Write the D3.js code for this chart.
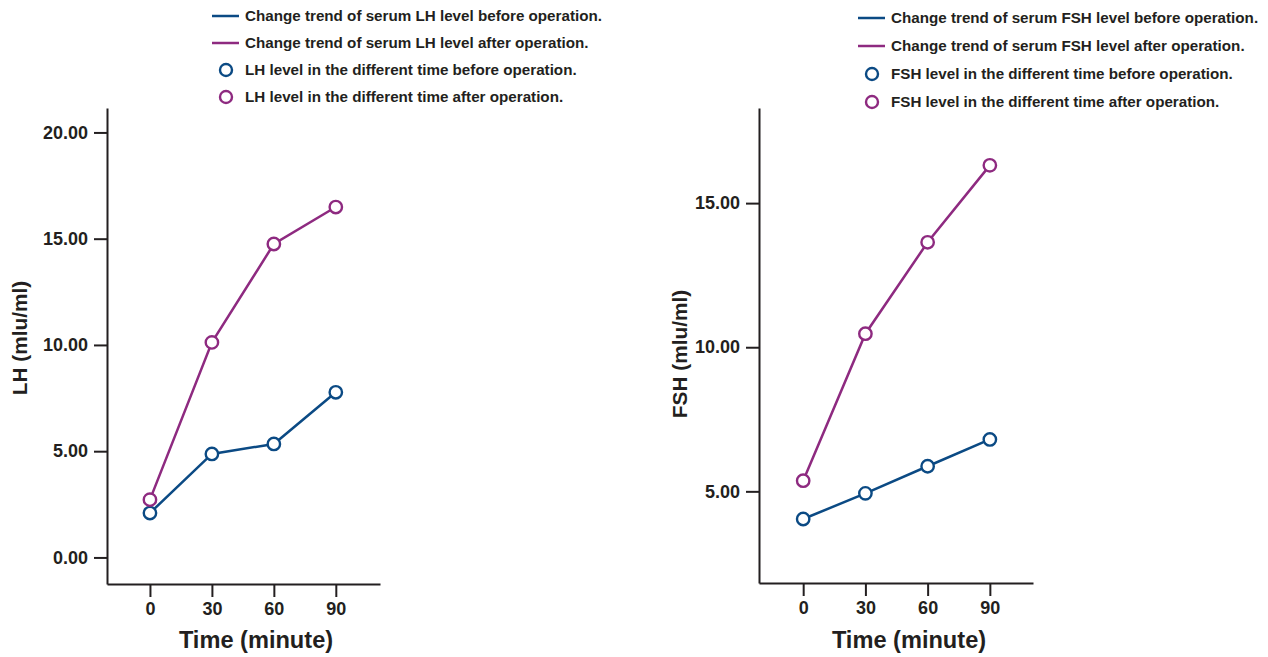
<!DOCTYPE html>
<html>
<head>
<meta charset="utf-8">
<script src="https://cdn.jsdelivr.net/npm/d3@7"></script>
<style>
  body { margin: 0; background: #fff; }
  text { font-family: "Liberation Sans", Arial, sans-serif; font-weight: bold; fill: #231f20; }
</style>
</head>
<body>
<svg id="chart" width="1268" height="657"></svg>
<script>
// data
const times = [0, 30, 60, 90];
const lhBefore = [2.09, 4.87, 5.34, 7.77];
const lhAfter = [2.72, 10.12, 14.75, 16.49];
const fshBefore = [4.04, 4.93, 5.87, 6.80];
const fshAfter = [5.37, 10.47, 13.64, 16.31];
const lhTicks = [0, 5, 10, 15, 20];
const fshTicks = [5, 10, 15];

const blue = '#0b4a84';
const purple = '#8e2a80';
const axisColor = '#231f20';

const svg = d3.select('#chart');

function panel(opt) {
  const x = d3.scaleLinear().domain(opt.xDomain).range([opt.left, opt.right]);
  const y = d3.scaleLinear().domain(opt.yDomain).range([opt.bottom, opt.top]);
  const g = svg.append('g');

  // axes
  const xAxis = g.append('g')
    .attr('transform', `translate(0, ${opt.bottom})`)
    .call(d3.axisBottom(x).tickValues(times).tickSize(13).tickSizeOuter(0).tickPadding(5));
  const yAxis = g.append('g')
    .attr('transform', `translate(${opt.left}, 0)`)
    .call(d3.axisLeft(y).tickValues(opt.ticks).tickFormat(d3.format('.2f')).tickSize(13).tickSizeOuter(0).tickPadding(6));
  [xAxis, yAxis].forEach(a => {
    a.select('.domain').attr('stroke', axisColor).attr('stroke-width', 2);
    a.selectAll('.tick line').attr('stroke', axisColor).attr('stroke-width', 2);
    a.selectAll('.tick text').style('font-size', '18px').attr('fill', axisColor);
  });

  // axis titles
  g.append('text')
    .attr('x', opt.xTitleX).attr('y', 648)
    .attr('text-anchor', 'middle')
    .style('font-size', '23.6px')
    .text('Time (minute)');
  g.append('text')
    .attr('transform', `translate(${opt.yTitleX}, ${opt.yTitleY}) rotate(-90)`)
    .attr('text-anchor', 'middle')
    .style('font-size', '20.8px')
    .text(opt.yTitle);

  // lines + markers
  const line = d3.line().x((d, i) => x(times[i])).y(d => y(d));
  [[opt.before, blue], [opt.after, purple]].forEach(([vals, col]) => {
    g.append('path')
      .datum(vals)
      .attr('d', line)
      .attr('fill', 'none')
      .attr('stroke', col)
      .attr('stroke-width', 2.5);
  });
  [[opt.before, blue], [opt.after, purple]].forEach(([vals, col]) => {
    g.selectAll(null)
      .data(vals)
      .enter()
      .append('circle')
      .attr('cx', (d, i) => x(times[i]))
      .attr('cy', d => y(d))
      .attr('r', 6.2)
      .attr('fill', '#fff')
      .attr('stroke', col)
      .attr('stroke-width', 2.4);
  });

  // legend
  const lg = g.append('g');
  const items = [
    { type: 'line', col: blue, label: `Change trend of serum ${opt.name} level before operation.` },
    { type: 'line', col: purple, label: `Change trend of serum ${opt.name} level after operation.` },
    { type: 'circle', col: blue, label: `${opt.name} level in the different time before operation.` },
    { type: 'circle', col: purple, label: `${opt.name} level in the different time after operation.` }
  ];
  items.forEach((it, i) => {
    const cy = opt.legY + i * opt.legStep;
    if (it.type === 'line') {
      lg.append('line')
        .attr('x1', opt.legX).attr('x2', opt.legX + 27)
        .attr('y1', cy).attr('y2', cy)
        .attr('stroke', it.col).attr('stroke-width', 2.5);
    } else {
      lg.append('circle')
        .attr('cx', opt.legX + 14).attr('cy', cy).attr('r', 6)
        .attr('fill', '#fff').attr('stroke', it.col).attr('stroke-width', 2.4);
    }
    lg.append('text')
      .attr('x', opt.legX + 33).attr('y', cy + 5)
      .style('font-size', '15.2px')
      .text(it.label);
  });
}

panel({
  name: 'LH', yTitle: 'LH (mlu/ml)',
  before: lhBefore, after: lhAfter, ticks: lhTicks,
  xDomain: [-20.8, 111.4], yDomain: [-1.25, 21.15],
  left: 107, right: 380, top: 108, bottom: 584,
  xTitleX: 256, yTitleX: 27, yTitleY: 338,
  legX: 212, legY: 16, legStep: 27
});

panel({
  name: 'FSH', yTitle: 'FSH (mlu/ml)',
  before: fshBefore, after: fshAfter, ticks: fshTicks,
  xDomain: [-21.3, 110.8], yDomain: [1.82, 18.3],
  left: 759, right: 1033, top: 108, bottom: 583,
  xTitleX: 909, yTitleX: 687, yTitleY: 354,
  legX: 858, legY: 18, legStep: 28
});
</script>
</body>
</html>
